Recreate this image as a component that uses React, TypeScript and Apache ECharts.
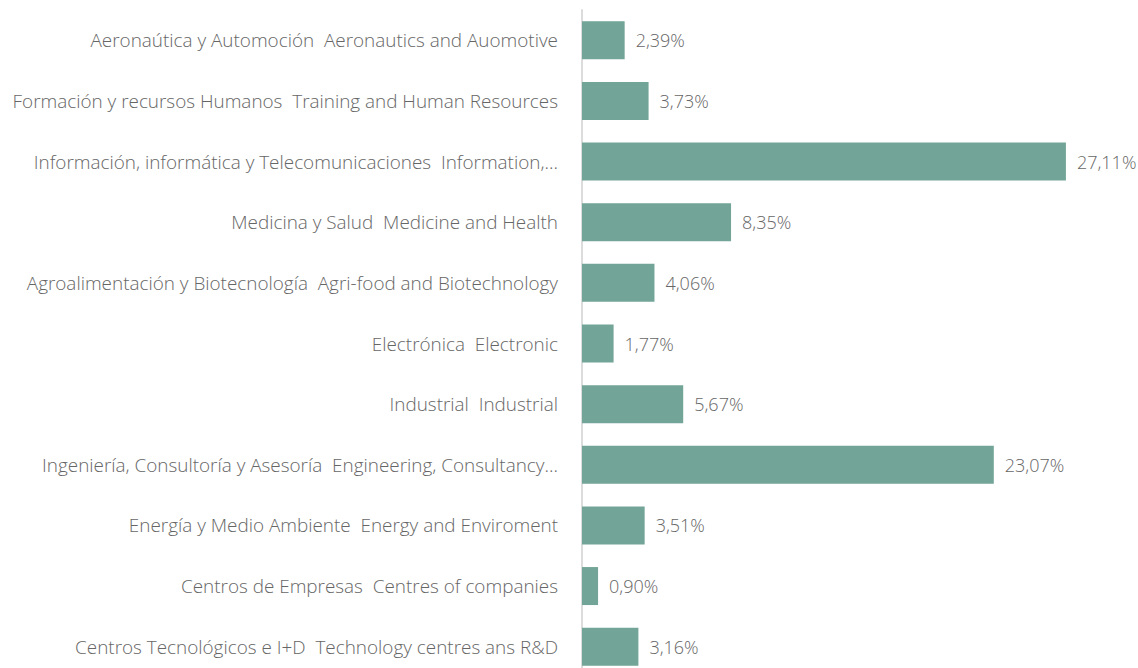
import React, { useEffect, useRef } from "react";
import * as echarts from "echarts";

const categories = [
  "Aeronaútica y Automoción  Aeronautics and Auomotive",
  "Formación y recursos Humanos  Training and Human Resources",
  "Información, informática y Telecomunicaciones  Information,...",
  "Medicina y Salud  Medicine and Health",
  "Agroalimentación y Biotecnología  Agri-food and Biotechnology",
  "Electrónica  Electronic",
  "Industrial  Industrial",
  "Ingeniería, Consultoría y Asesoría  Engineering, Consultancy...",
  "Energía y Medio Ambiente  Energy and Enviroment",
  "Centros de Empresas  Centres of companies",
  "Centros Tecnológicos e I+D  Technology centres ans R&D",
];

const values = [2.39, 3.73, 27.11, 8.35, 4.06, 1.77, 5.67, 23.07, 3.51, 0.9, 3.16];

const FONT = "'Open Sans', Lato, sans-serif";
const TEXT_COLOR = "#666666";
const BAR_COLOR = "#72a597";

export default function App() {
  const ref = useRef<HTMLDivElement>(null);
  useEffect(() => {
    if (!ref.current) return;
    const chart = echarts.init(ref.current, undefined, { renderer: "svg" });
    chart.setOption({
      animation: false,
      grid: {
        left: 582,
        top: 10,
        height: 667,
        width: 535.5,
        containLabel: false,
        outerBoundsMode: "none",
      },
      xAxis: {
        type: "value",
        min: 0,
        max: 30,
        show: false,
      },
      yAxis: {
        type: "category",
        inverse: true,
        data: categories,
        axisLine: { show: true, lineStyle: { color: "#dcdcdc", width: 2 } },
        axisTick: { show: false },
        axisLabel: {
          margin: 24,
          fontFamily: FONT,
          fontWeight: 300,
          fontSize: 18.9,
          color: TEXT_COLOR,
        },
      },
      series: [
        {
          type: "bar",
          data: values,
          barWidth: 38,
          itemStyle: { color: BAR_COLOR },
          label: {
            show: true,
            position: "right",
            distance: 11,
            fontFamily: FONT,
            fontWeight: 300,
            fontSize: 18,
            color: TEXT_COLOR,
            formatter: (p: any) => p.value.toFixed(2).replace(".", ",") + "%",
          },
        },
      ],
    });
    return () => chart.dispose();
  }, []);
  return (
    <div
      ref={ref}
      style={{ position: "absolute", left: 0, top: 0, width: 1138, height: 680 }}
    />
  );
}
